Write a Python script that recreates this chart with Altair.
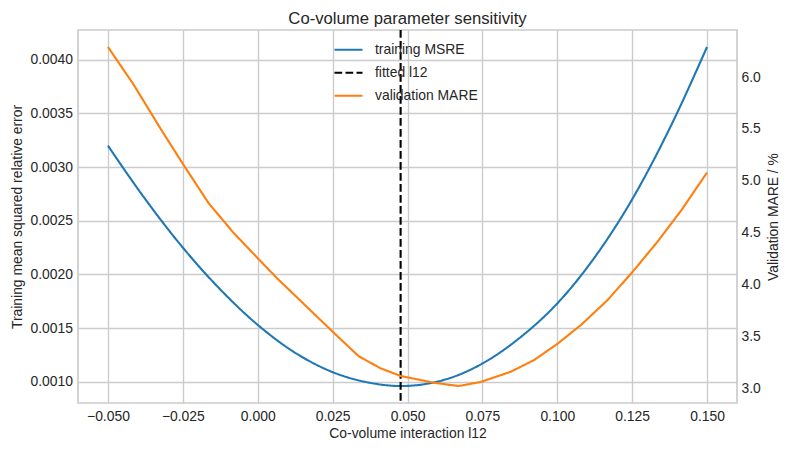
import altair as alt
import pandas as pd

# Training error (mean squared relative error) versus the co-volume interaction l12
l12_train = [-0.05, -0.0375, -0.025, -0.0125, 0.0, 0.0125, 0.025, 0.0375, 0.0477,
             0.0625, 0.075, 0.0875, 0.1, 0.1125, 0.125, 0.1375, 0.15]
msre_train = [0.00320, 0.00270, 0.00225, 0.00186, 0.00153, 0.00127, 0.00109, 0.00099,
              0.00096, 0.00102, 0.00117, 0.00141, 0.00173, 0.00216, 0.00270, 0.00336,
              0.00412]

# Validation error (mean absolute relative error, %) versus l12
l12_val = [-0.05, -0.0415, -0.0326, -0.0248, -0.0164, -0.0081, 0.0, 0.0065, 0.025, 0.0337,
           0.041, 0.0477, 0.0588, 0.0671, 0.0744, 0.0845, 0.0923, 0.1003, 0.1079, 0.1168,
           0.1252, 0.1335, 0.1415, 0.15]
mare_val = [6.29, 5.93, 5.51, 5.155, 4.785, 4.50, 4.255, 4.06, 3.547, 3.31,
            3.194, 3.12, 3.055, 3.023, 3.062, 3.161, 3.274, 3.435, 3.611, 3.852,
            4.125, 4.415, 4.72, 5.08]

# Fitted co-volume interaction parameter
l12_fit = 0.0477

series_names = ["training MSRE", "fitted l12", "validation MARE"]
series_colors = ["#1f77b4", "#000000", "#ff7f0e"]
series_dashes = [[1, 0], [7.7, 3.3], [1, 0]]

x_ticks = [-0.05, -0.025, 0.0, 0.025, 0.05, 0.075, 0.1, 0.125, 0.15]
left_ticks = [0.0010, 0.0015, 0.0020, 0.0025, 0.0030, 0.0035, 0.0040]
right_ticks = [3.0, 3.5, 4.0, 4.5, 5.0, 5.5, 6.0]


def padded(values, frac=0.05):
    lo, hi = min(values), max(values)
    pad = (hi - lo) * frac
    return [lo - pad, hi + pad]


FONT = "Liberation Sans"
TXT = "#262626"
GRID = "#cccccc"

train_df = pd.DataFrame({"l12": l12_train, "value": msre_train, "series": series_names[0]})
fit_df = pd.DataFrame({"l12": [l12_fit], "series": [series_names[1]]})
val_df = pd.DataFrame({"l12": l12_val, "value": mare_val, "series": series_names[2]})

x_enc = alt.X(
    "l12:Q",
    scale=alt.Scale(domain=padded(l12_train), nice=False, zero=False),
    axis=alt.Axis(
        values=x_ticks, format=".3f", title="Co-volume interaction l12",
        titleY=34, titleBaseline="alphabetic", labelPadding=6,
    ),
)

legend = alt.Legend(
    title=None, orient="none", legendX=255, legendY=4.3, symbolType="stroke",
    symbolSize=784, symbolStrokeWidth=2.1, labelFont=FONT, labelFontSize=13.9,
    labelColor=TXT, labelOffset=11, rowPadding=-2.5, padding=0,
)
color_enc = alt.Color("series:N", scale=alt.Scale(domain=series_names, range=series_colors),
                      legend=legend)
dash_enc = alt.StrokeDash("series:N", scale=alt.Scale(domain=series_names, range=series_dashes),
                          legend=legend)

train_line = alt.Chart(train_df).mark_line(strokeWidth=2.1, interpolate="monotone").encode(
    x=x_enc,
    y=alt.Y(
        "value:Q",
        scale=alt.Scale(domain=padded(msre_train), nice=False, zero=False),
        axis=alt.Axis(
            values=left_ticks, format=".4f", title="Training mean squared relative error",
            titleX=-61, titleY=186.5, titleAngle=270, titleBaseline="middle",
            labelPadding=5.5,
        ),
    ),
    color=color_enc,
    strokeDash=dash_enc,
)

fit_rule = alt.Chart(fit_df).mark_rule(strokeWidth=2.1).encode(
    x=x_enc,
    color=color_enc,
    strokeDash=dash_enc,
)

val_line = alt.Chart(val_df).mark_line(strokeWidth=2.1).encode(
    x=x_enc,
    y=alt.Y(
        "value:Q",
        scale=alt.Scale(domain=padded(mare_val), nice=False, zero=False),
        axis=alt.Axis(
            orient="right", values=right_ticks, format=".1f", title="Validation MARE / %",
            titleX=36, titleY=186.5, titleAngle=270, titleBaseline="middle",
            labelPadding=4,
        ),
    ),
    color=color_enc,
    strokeDash=dash_enc,
)

chart = (
    alt.layer(train_line, fit_rule, val_line)
    .resolve_scale(y="independent")
    .properties(
        width=659,
        height=373,
        autosize=alt.AutoSizeParams(type="none"),
        padding={"left": 78, "top": 30, "right": 53, "bottom": 47},
        title=alt.TitleParams(
            "Co-volume parameter sensitivity", font=FONT, fontSize=16.7, color=TXT,
            fontWeight="normal", anchor="middle", baseline="alphabetic", offset=7.7,
            dy=19, frame="group",
        ),
    )
    .configure(background="white")
    .configure_view(stroke=GRID, strokeWidth=1.7)
    .configure_axis(
        domain=False, ticks=False, grid=True, gridColor=GRID, gridWidth=1.4,
        labelFont=FONT, labelFontSize=13.9, labelColor=TXT,
        titleFont=FONT, titleFontSize=13.9, titleColor=TXT, titleFontWeight="normal",
    )
)

chart.save("out.html", embed_options={"renderer": "svg", "actions": False})
